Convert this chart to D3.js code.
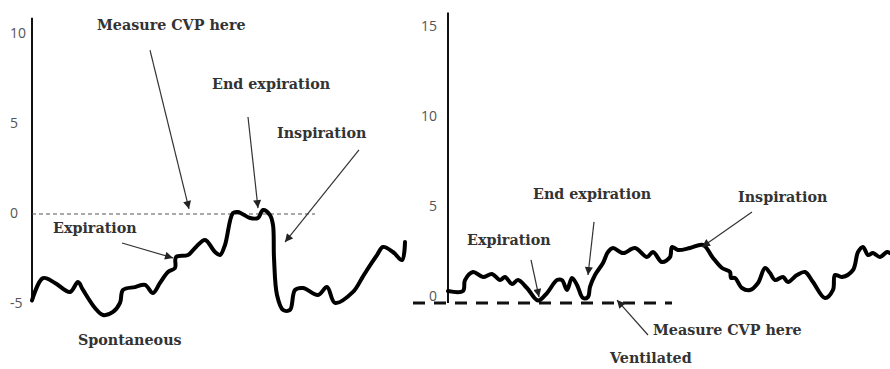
<!DOCTYPE html>
<html>
<head>
<meta charset="utf-8">
<script src="https://cdn.jsdelivr.net/npm/d3@7"></script>
<style>
  html, body { margin: 0; padding: 0; background: #fff; }
  svg { display: block; }
  .tick-label { font-family: "Open Sans", "DejaVu Sans", sans-serif; font-size: 14px; fill: #555; }
  .note { font-family: "DejaVu Serif", "Liberation Serif", serif; font-weight: bold; font-size: 14.3px; fill: #333; }
</style>
</head>
<body>
<svg id="chart" width="890" height="369"></svg>
<script>
// ---------- Data ----------
// Spontaneous breathing: time (arbitrary units) and CVP (mmHg)
const spontTime = [0, 11, 23, 38, 46, 51, 63, 71, 81, 88, 91, 103, 113, 121, 128, 136, 143, 144, 156, 164, 173, 183, 188, 193, 201, 206, 218, 226, 231, 238, 241, 242, 245, 251, 258, 263, 271, 286, 295, 303, 321, 330, 335, 345, 351, 361, 370, 373];
const spontCVP  = [-4.8, -3.56, -3.83, -4.33, -3.78, -4.22, -5.22, -5.61, -5.44, -4.94, -4.22, -4.06, -3.94, -4.39, -3.83, -3.22, -3.0, -2.39, -2.28, -1.83, -1.44, -2.11, -2.28, -1.72, 0.06, 0.11, -0.22, -0.22, 0.22, -0.06, -0.61, -2.44, -4.5, -5.33, -5.33, -4.22, -4.11, -4.5, -4.06, -4.94, -4.33, -3.56, -3.11, -2.28, -1.83, -2.11, -2.56, -1.56];
const spontTicks = [10, 5, 0, -5];

// Mechanical ventilation: time (arbitrary units) and CVP (mmHg)
const ventTime = [0, 15, 17, 25, 35, 44, 52, 57, 64, 70, 79, 90, 99, 109, 114, 119, 124, 129, 135, 140, 142, 147, 155, 160, 165, 175, 187, 199, 205, 214, 222, 224, 230, 242, 255, 265, 274, 282, 283, 287, 294, 302, 310, 317, 322, 327, 335, 340, 349, 357, 365, 377, 385, 387, 394, 405, 410, 415, 420, 425, 432, 439, 442];
const ventCVP  = [0.33, 0.33, 0.94, 1.39, 1.11, 1.28, 0.94, 1.11, 0.72, 0.94, 0.5, -0.2, 0.22, 0.94, 0.94, 0.39, 1.06, 0.67, -0.06, 0.0, 0.56, 1.22, 1.89, 2.5, 2.72, 2.44, 2.72, 2.22, 2.5, 1.94, 2.22, 2.78, 2.61, 2.72, 2.89, 2.17, 1.61, 1.39, 1.06, 1.06, 0.5, 0.39, 0.78, 1.61, 1.33, 0.94, 1.11, 0.83, 1.22, 1.39, 0.83, -0.06, 0.39, 1.22, 1.11, 1.5, 2.5, 2.78, 2.33, 2.44, 2.22, 2.5, 2.44];
const ventTicks = [15, 10, 5, 0];

// Reference (measurement) lines
const spontRef = { from: 0, to: 283, value: 0 };
const ventRef  = { from: -35, to: 224, value: -0.33 };

// Annotations: text label positions and arrows (tail -> tip), in data units
const spontLabels = [
  { text: "Measure CVP here", t: 65,  v: 10.22 },
  { text: "End expiration",   t: 180, v: 6.94 },
  { text: "Inspiration",      t: 245, v: 4.22 },
  { text: "Expiration",       t: 21,  v: -1.06 },
  { text: "Spontaneous",      t: 46,  v: -7.28 }
];
const spontArrows = [
  { t0: 118, v0: 9.11,  t1: 157, v1: 0.28 },
  { t0: 216, v0: 5.39,  t1: 226, v1: 0.33 },
  { t0: 327, v0: 3.56,  t1: 253, v1: -1.56 },
  { t0: 90,  v0: -1.61, t1: 141, v1: -2.44 }
];
const ventLabels = [
  { text: "End expiration",   t: 85,  v: 5.44 },
  { text: "Inspiration",      t: 290, v: 5.28 },
  { text: "Expiration",       t: 19,  v: 2.89 },
  { text: "Measure CVP here", t: 205, v: -2.11 },
  { text: "Ventilated",       t: 162, v: -3.67 }
];
const ventArrows = [
  { t0: 146, v0: 4.17,  t1: 140, v1: 1.22 },
  { t0: 304, v0: 4.72,  t1: 254, v1: 2.78 },
  { t0: 83,  v0: 2.06,  t1: 91,  v1: 0.0 },
  { t0: 200, v0: -2.11, t1: 169, v1: -0.17 }
];

// ---------- Drawing ----------
const svg = d3.select("#chart");
const defs = svg.append("defs");
defs.append("marker")
  .attr("id", "arrow")
  .attr("viewBox", "0 0 10 10")
  .attr("refX", 10).attr("refY", 5)
  .attr("markerWidth", 9).attr("markerHeight", 8)
  .attr("markerUnits", "userSpaceOnUse")
  .attr("orient", "auto")
  .append("path")
  .attr("d", "M0,0 L10,5 L0,10 Z")
  .attr("fill", "#222");

function panel(cfg) {
  const x = d3.scaleLinear().domain(cfg.tDomain).range(cfg.xRange);
  const y = d3.scaleLinear().domain(cfg.vDomain).range(cfg.yRange);
  const g = svg.append("g");

  // vertical axis line
  g.append("line")
    .attr("x1", x(0)).attr("x2", x(0))
    .attr("y1", y(cfg.axisExtent[0])).attr("y2", y(cfg.axisExtent[1]))
    .attr("stroke", "#111").attr("stroke-width", 2);

  // tick labels
  g.selectAll("text.tick-label").data(cfg.ticks).join("text")
    .attr("class", "tick-label")
    .attr("x", cfg.tickX)
    .attr("y", d => y(d) + cfg.tickDy)
    .attr("text-anchor", cfg.tickAnchor)
    .attr("dominant-baseline", "central")
    .text(d => d);

  // reference line
  g.append("line")
    .attr("x1", x(cfg.ref.from)).attr("x2", x(cfg.ref.to))
    .attr("y1", y(cfg.ref.value)).attr("y2", y(cfg.ref.value))
    .attr("stroke", cfg.refStyle.color)
    .attr("stroke-width", cfg.refStyle.width)
    .attr("stroke-dasharray", cfg.refStyle.dash);

  // pressure trace
  const line = d3.line()
    .x((d, i) => x(cfg.time[i]))
    .y(d => y(d))
    .curve(d3.curveCatmullRom.alpha(0.5));
  g.append("path")
    .attr("d", line(cfg.values))
    .attr("fill", "none")
    .attr("stroke", "#000")
    .attr("stroke-width", 4)
    .attr("stroke-linejoin", "round")
    .attr("stroke-linecap", "round");

  // arrows
  g.selectAll("line.arrow").data(cfg.arrows).join("line")
    .attr("class", "arrow")
    .attr("x1", d => x(d.t0)).attr("y1", d => y(d.v0))
    .attr("x2", d => x(d.t1)).attr("y2", d => y(d.v1))
    .attr("stroke", "#333").attr("stroke-width", 1.2)
    .attr("marker-end", "url(#arrow)");

  // labels
  g.selectAll("text.note").data(cfg.labels).join("text")
    .attr("class", "note")
    .attr("x", d => x(d.t))
    .attr("y", d => y(d.v))
    .text(d => d.text);
}

panel({
  time: spontTime, values: spontCVP, ticks: spontTicks,
  tDomain: [0, 373], xRange: [32, 405],
  vDomain: [0, 10], yRange: [214, 34],
  axisExtent: [-4.9, 10.9],
  tickX: 10, tickAnchor: "start", tickDy: -2,
  ref: spontRef, refStyle: { color: "#555", width: 1, dash: "4,3" },
  arrows: spontArrows, labels: spontLabels
});

panel({
  time: ventTime, values: ventCVP, ticks: ventTicks,
  tDomain: [0, 442], xRange: [448, 890],
  vDomain: [0, 15], yRange: [297, 27],
  axisExtent: [-0.33, 15.8],
  tickX: 437, tickAnchor: "end", tickDy: -2,
  ref: ventRef, refStyle: { color: "#111", width: 3, dash: "12,9" },
  arrows: ventArrows, labels: ventLabels
});
</script>
</body>
</html>
